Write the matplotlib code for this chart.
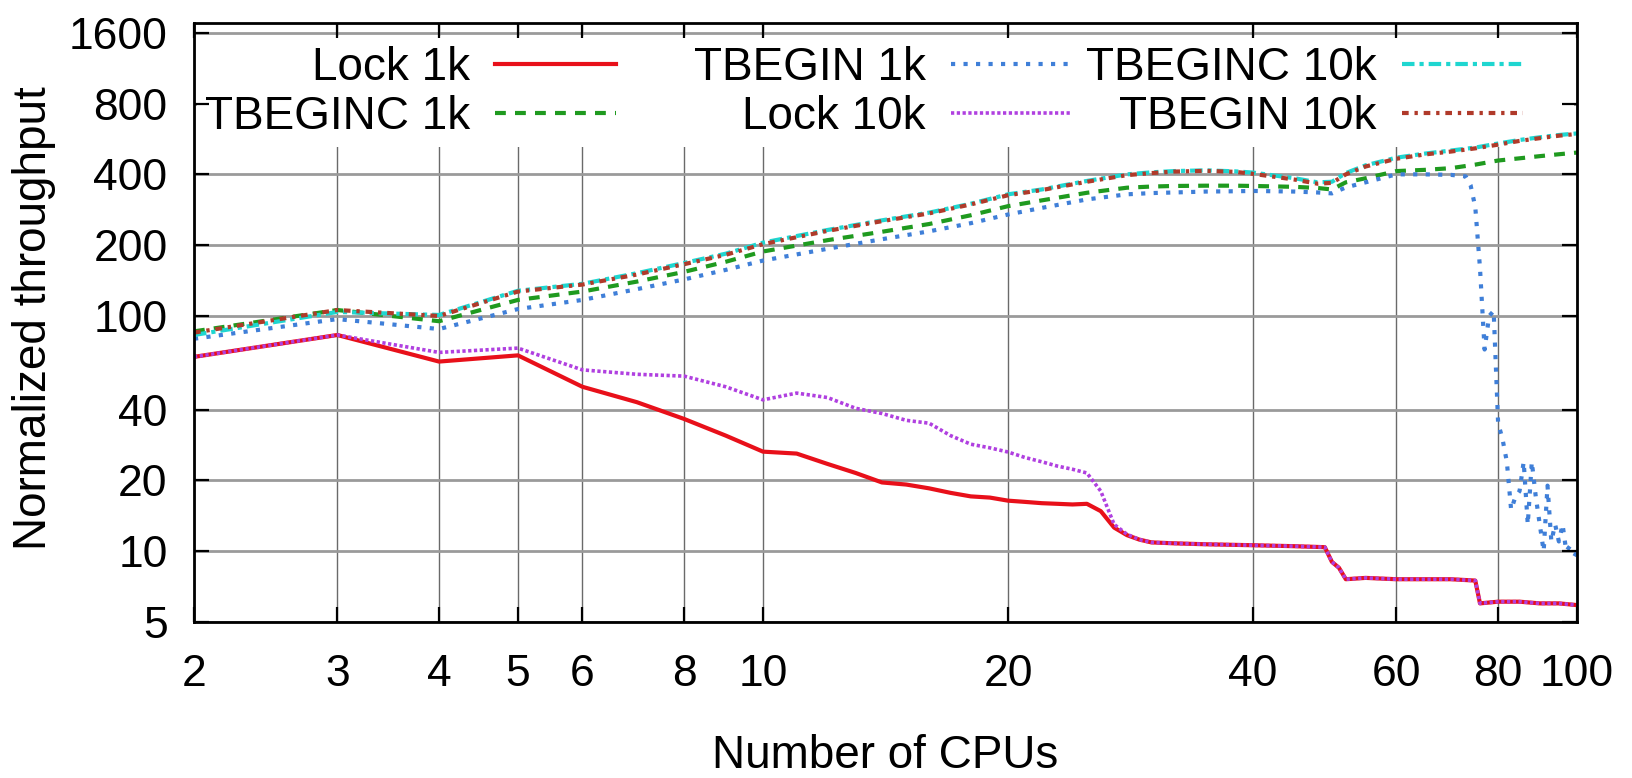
import matplotlib
matplotlib.use('Agg')
import matplotlib.pyplot as plt
from matplotlib.patches import Rectangle
from matplotlib.ticker import FixedLocator, FixedFormatter, NullLocator

plt.rcParams['font.family'] = ['Liberation Sans', 'DejaVu Sans']

# ---------------- data ----------------
x_ticks = [2, 3, 4, 5, 6, 8, 10, 20, 40, 60, 80, 100]
x_tick_labels = ['2', '3', '4', '5', '6', '8', '10', '20', '40', '60', '80', '100']
y_ticks = [5, 10, 20, 40, 100, 200, 400, 800, 1600]
y_tick_labels = ['5', '10', '20', '40', '100', '200', '400', '800', '1600']

cpus_lock = [2, 3, 4, 5, 6, 7, 8, 9, 10, 11, 12, 13, 14, 15, 16, 17, 18, 19, 20, 21,
             22, 23, 24, 25, 26, 27, 28, 29, 30, 32, 35, 40, 45, 49, 50, 51, 52, 55,
             60, 65, 70, 75, 76, 80, 85, 90, 95, 100]
lock_1k = [67, 83, 64, 68, 50, 43, 36.5, 31, 26.5, 26, 23.5, 21.5, 19.6, 19.2, 18.5,
           17.7, 17.1, 16.9, 16.4, 16.2, 16.0, 15.9, 15.8, 15.9, 14.8, 12.6, 11.7,
           11.2, 10.9, 10.8, 10.7, 10.6, 10.5, 10.4, 9.0, 8.5, 7.6, 7.7, 7.6, 7.6,
           7.6, 7.5, 6.0, 6.1, 6.1, 6.0, 6.0, 5.9]
lock_10k = [67, 83, 70, 73, 59, 56.5, 55.5, 50, 44, 47, 45, 40.5, 38.5, 36, 35, 31,
            28.5, 27.5, 26.4, 25, 24, 23, 22.3, 21.5, 18, 13, 11.8, 11.2, 10.9, 10.8,
            10.7, 10.6, 10.5, 10.4, 9.0, 8.5, 7.6, 7.7, 7.6, 7.6, 7.6, 7.5, 6.0, 6.1,
            6.1, 6.0, 6.0, 5.9]

cpus_tx = [2, 3, 4, 5, 6, 7, 8, 9, 10, 12, 14, 16, 18, 20, 22, 25, 28, 30, 32, 35,
           38, 40, 45, 48, 50, 52, 55, 60, 65, 70, 75, 80, 85, 90, 95, 100]
tbeginc_1k = [86, 106, 95, 117, 127, 140, 154, 170, 188, 210, 228, 246, 268, 293, 310,
              334, 351, 355, 357, 358, 358, 357, 354, 350, 345, 370, 385, 413, 418,
              425, 440, 458, 468, 478, 487, 495]
tbeginc_10k = [83, 104, 101, 128, 137, 152, 168, 184, 205, 232, 255, 275, 300, 329,
               345, 375, 400, 408, 413, 416, 412, 407, 385, 370, 372, 405, 437, 471,
               490, 505, 520, 541, 560, 575, 588, 597]
tbegin_10k = [85, 106, 100, 127, 136, 150, 166, 182, 202, 230, 253, 273, 298, 326,
              343, 372, 397, 405, 411, 414, 410, 402, 380, 365, 368, 400, 432, 466,
              486, 500, 516, 535, 555, 570, 584, 594]

cpus_tbegin_1k = [2, 3, 4, 5, 6, 7, 8, 9, 10, 12, 14, 16, 18, 20, 22, 25, 28, 30, 32,
                  35, 38, 40, 45, 48, 50, 52, 55, 60, 65, 70, 73, 74, 75, 76, 77, 78,
                  79, 80, 81, 82, 83, 84, 85, 86, 87, 88, 89, 90, 91, 92, 93, 94, 95,
                  96, 97, 98, 99, 100]
tbegin_1k = [80, 97, 88, 107, 117, 130, 143, 157, 172, 193, 212, 229, 248, 270, 288,
             313, 329, 333, 335, 338, 339, 340, 338, 335, 332, 352, 370, 400, 400, 398,
             392, 360, 290, 160, 72, 100, 105, 35, 30, 24, 15, 17, 18, 24, 13, 24, 17,
             13, 10, 19, 11, 13, 11, 13, 10, 10.5, 9.8, 9.6]

# ---------------- figure ----------------
W, H = 1632, 778
fig = plt.figure(figsize=(W / 100, H / 100), dpi=100)
rect = [194 / W, 1 - 622 / H, (1577 - 194) / W, (622 - 23) / H]
ax = fig.add_axes(rect)
ax.set_xscale('log')
ax.set_yscale('log')
ax.set_xlim(2, 100)
ax.set_ylim(5, 1760)

# grid
ax.set_axisbelow(True)
ax.xaxis.grid(True, color='#6a6a6a', lw=1.0)
ax.yaxis.grid(True, color='#9a9a9a', lw=2.0)

# key background (blanks the grid under the key, like gnuplot's key box)
ax.add_patch(Rectangle((0.002, (622 - 147) / 599), 0.996, (147 - 36) / 599,
                       transform=ax.transAxes, facecolor='white', edgecolor='none',
                       zorder=2))

# series
l1, = ax.plot(cpus_lock, lock_1k, color='#e8101a', lw=3.0, label='Lock 1k', zorder=3)
l2, = ax.plot(cpus_tx, tbeginc_1k, color='#1f9a1f', lw=3.0, ls=(0, (2.6, 2.2)),
              label='TBEGINC 1k', zorder=3)
l3, = ax.plot(cpus_tbegin_1k, tbegin_1k, color='#3f7fd8', lw=3.0, ls=(0, (1.0, 2.0)),
              label='TBEGIN 1k', zorder=3)
l4, = ax.plot(cpus_lock, lock_10k, color='#b040e0', lw=2.6, ls=(0, (0.9, 0.7)),
              label='Lock 10k', zorder=3)
l5, = ax.plot(cpus_tx, tbeginc_10k, color='#1fd6d0', lw=3.0, ls=(0, (3.0, 1.2, 1.0, 1.2)),
              label='TBEGINC 10k', zorder=3)
l6, = ax.plot(cpus_tx, tbegin_10k, color='#b03a2a', lw=3.0,
              ls=(0, (1.6, 1.4, 0.8, 1.4)), label='TBEGIN 10k', zorder=3)

# tick labels on the main axes, no tick marks
ax.xaxis.set_major_locator(FixedLocator(x_ticks))
ax.xaxis.set_major_formatter(FixedFormatter(x_tick_labels))
ax.xaxis.set_minor_locator(NullLocator())
ax.yaxis.set_major_locator(FixedLocator(y_ticks))
ax.yaxis.set_major_formatter(FixedFormatter(y_tick_labels))
ax.yaxis.set_minor_locator(NullLocator())
ax.tick_params(axis='x', length=0, labelsize=32, pad=23)
ax.tick_params(axis='y', length=0, labelsize=32, pad=19)
for s in ax.spines.values():
    s.set_visible(False)

# overlay axes for border and tick marks (drawn on top)
ax2 = fig.add_axes(rect, facecolor='none')
ax2.set_xscale('log')
ax2.set_yscale('log')
ax2.set_xlim(2, 100)
ax2.set_ylim(5, 1760)
ax2.xaxis.set_major_locator(FixedLocator(x_ticks))
ax2.xaxis.set_minor_locator(NullLocator())
ax2.yaxis.set_major_locator(FixedLocator(y_ticks))
ax2.yaxis.set_minor_locator(NullLocator())
ax2.tick_params(which='both', direction='in', length=11, width=1.6, top=True,
                right=True, labelbottom=False, labelleft=False)
for s in ax2.spines.values():
    s.set_linewidth(2.0)
    s.set_color('black')

# legends: three columns, text right-aligned before the sample
cols = [([l1, l2], 616), ([l3, l4], 1072), ([l5, l6], 1523)]
for handles, xr in cols:
    leg = fig.legend(handles=handles, loc='center right',
                     bbox_to_anchor=(xr / W, 1 - 92.5 / H),
                     bbox_transform=fig.transFigure, frameon=False, fontsize=33,
                     markerfirst=False, handlelength=2.64, handletextpad=0.55,
                     labelspacing=0.1, borderpad=0, borderaxespad=0)
    leg.set_zorder(6)

# axis labels
fig.text(34 / W, 1 - 318 / H, 'Normalized throughput', rotation=90, ha='center',
         va='center', fontsize=33)
fig.text(885 / W, 1 - 768 / H, 'Number of CPUs', ha='center', va='baseline',
         fontsize=33)

fig.savefig('out.png', dpi=100)
